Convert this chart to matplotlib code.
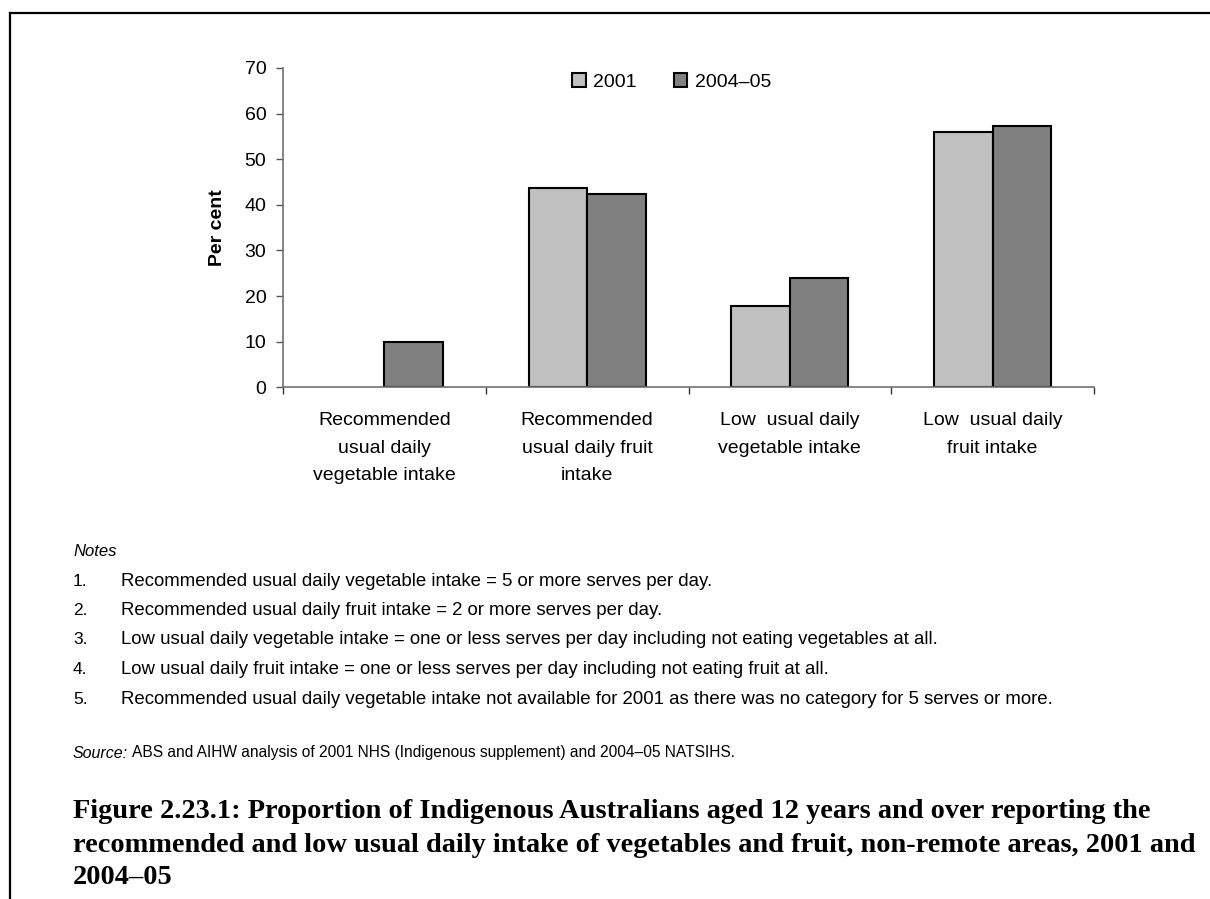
import numpy as np
import matplotlib
matplotlib.use("Agg")
import matplotlib.pyplot as plt
from matplotlib.lines import Line2D

categories = [
    "Recommended\nusual daily\nvegetable intake",
    "Recommended\nusual daily fruit\nintake",
    "Low  usual daily\nvegetable intake",
    "Low  usual daily\nfruit intake",
]
years = ["2001", "2004–05"]
values_2001 = [np.nan, 43.8, 17.9, 56.0]   # 2001 not available for first category
values_2004 = [10.0, 42.4, 24.0, 57.3]
yticks = [0, 10, 20, 30, 40, 50, 60, 70]

notes = [
    "Recommended usual daily vegetable intake = 5 or more serves per day.",
    "Recommended usual daily fruit intake = 2 or more serves per day.",
    "Low usual daily vegetable intake = one or less serves per day including not eating vegetables at all.",
    "Low usual daily fruit intake = one or less serves per day including not eating fruit at all.",
    "Recommended usual daily vegetable intake not available for 2001 as there was no category for 5 serves or more.",
]
source_text = "ABS and AIHW analysis of 2001 NHS (Indigenous supplement) and 2004–05 NATSIHS."
caption = [
    "Figure 2.23.1: Proportion of Indigenous Australians aged 12 years and over reporting the",
    "recommended and low usual daily intake of vegetables and fruit, non-remote areas, 2001 and",
    "2004–05",
]

plt.rcParams['font.family'] = ['Liberation Sans', 'DejaVu Sans']

W, H = 1210, 899
fig = plt.figure(figsize=(W / 100, H / 100), dpi=100)


def fx(px):
    return px / W


def fy(py):
    return 1 - py / H


ax = fig.add_axes([fx(283), fy(387.3), fx(1094) - fx(283), fy(68) - fy(387.3)])

x = np.arange(len(categories))
w = 0.289
ax.bar(x - w / 2, values_2001, w, color="#c0c0c0", edgecolor="black", linewidth=1.5, label=years[0])
ax.bar(x + w / 2, values_2004, w, color="#808080", edgecolor="black", linewidth=1.5, label=years[1])

ax.set_xlim(-0.5, len(categories) - 0.5)
ax.set_ylim(0, 70)
ax.set_yticks(yticks)
ax.tick_params(axis='y', labelsize=14, length=5, width=1, pad=7, color="#555555")

# category boundaries as major ticks, labels on minor ticks
ax.set_xticks(np.arange(-0.5, len(categories), 1.0))
ax.set_xticklabels([])
ax.tick_params(axis='x', which='major', length=5, width=1, color="#333333")
ax.set_xticks(x, minor=True)
ax.set_xticklabels(categories, minor=True, fontsize=14, linespacing=1.8)
ax.tick_params(axis='x', which='minor', length=0, pad=18)

for s in ["top", "right"]:
    ax.spines[s].set_visible(False)
for s in ["left", "bottom"]:
    ax.spines[s].set_color("#707070")
    ax.spines[s].set_linewidth(1.2)

ax.set_ylabel("Per cent", fontsize=14, fontweight="bold", labelpad=13)

fig.legend(loc="center left", bbox_to_anchor=(fx(572), fy(82)), frameon=False, ncol=2,
           fontsize=14, handlelength=0.7, handleheight=0.7, handletextpad=0.4,
           columnspacing=1.9, borderpad=0, borderaxespad=0)

# notes
fig.text(fx(73), fy(552), "Notes", fontsize=12, style="italic", va="center")
for i, n in enumerate(notes):
    yy = fy(581 + i * 29.5)
    fig.text(fx(73), yy, f"{i + 1}.", fontsize=12.5, va="center")
    fig.text(fx(121), yy, n, fontsize=13.4, va="center")

t = fig.text(fx(73), fy(753), "Source:", fontsize=11.5, style="italic", va="center")
fig.canvas.draw()
bb = t.get_window_extent()
fig.text(bb.x1 / W + fx(4), fy(753), source_text, fontsize=11.2, va="center")

# caption sized so the second line ends where it does in the page
cap_family = ["Liberation Serif", "DejaVu Serif"]
probe = fig.text(0, 0, caption[1], fontsize=16, fontweight="bold", family=cap_family)
fig.canvas.draw()
cap_size = 16 * 1127 / probe.get_window_extent().width
probe.remove()
for i, line in enumerate(caption):
    fig.text(fx(73), fy(812 + i * 33), line, fontsize=cap_size, fontweight="bold",
             family=cap_family, va="center")

# page frame: top and left rules
fig.add_artist(Line2D([fx(10), fx(1209)], [fy(13), fy(13)], color="black", lw=1.6))
fig.add_artist(Line2D([fx(10), fx(10)], [fy(13), 0], color="black", lw=1.6))

fig.savefig("out.png", dpi=100)
